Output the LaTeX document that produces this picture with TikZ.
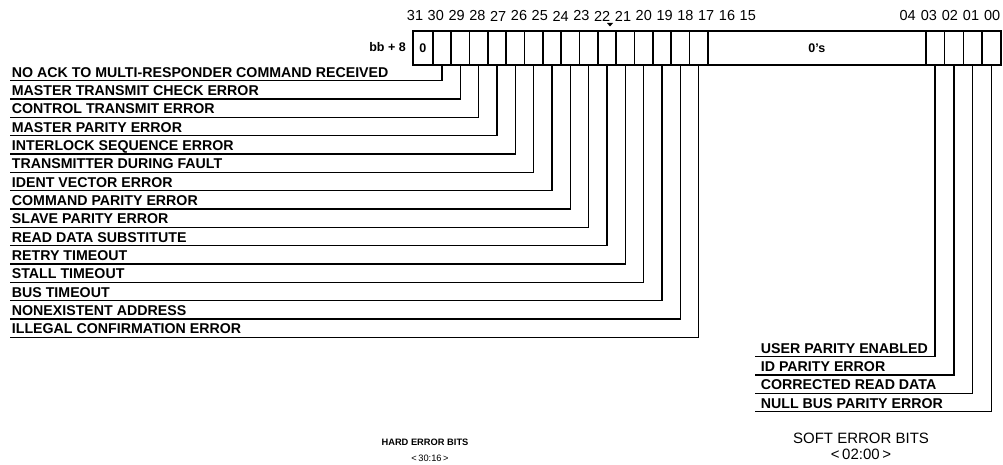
\documentclass[tikz,border=0pt]{standalone}
\usepackage{fontspec}
\setmainfont{Liberation Sans}
\begin{document}
\begin{tikzpicture}[x=1pt, y=-1pt,
    cell/.style={draw, line width=1.6pt, minimum height=34pt, inner sep=0pt, anchor=north west,
      font=\bfseries\fontsize{12.5}{14}\selectfont},
    bitno/.style={font=\fontsize{14.5}{16}\selectfont, inner sep=0pt},
    lbl/.style={font=\bfseries\fontsize{14.2}{16}\selectfont, anchor=south west,
      inner xsep=1.7pt, inner ysep=3.4pt, text depth=0pt},
    lead/.style={line width=1.4pt}]
    \useasboundingbox (0,0) rectangle (1003,465);

    % Register
    \node[font=\bfseries\fontsize{12.5}{14}\selectfont, anchor=east, inner sep=0pt] (base) at (406,47) {bb + 8};
    \node[cell, minimum width=20pt] (c31) at (412,30) {0};
    \foreach \b [count=\i from 0] in {30,29,...,16}
        \node[cell, minimum width=18.33pt] (c\b) at ({432+18.33*\i},30) {};
    \node[cell, minimum width=218pt] (czero) at (707,30) {0's};
    \foreach \b [count=\i from 0] in {03,02,01,00}
        \node[cell, minimum width=18.75pt] (c\b) at ({925+18.75*\i},30) {};

    % Bit numbers
    \foreach \b [count=\i from 0] in {31,30,...,15}
        \node[bitno] (n\b) at ({415+20.8*\i},16) {\b};
    \foreach \b [count=\i from 0] in {04,03,02,01,00}
        \node[bitno] (n\b) at ({907.7+21.1*\i},16) {\b};
    \fill (607,23) -- (613,23) -- (610,26.5) -- cycle;

    % Hard error bits
    \foreach \b/\t [count=\i from 0] in {30/NO ACK TO MULTI-RESPONDER COMMAND RECEIVED,
        29/MASTER TRANSMIT CHECK ERROR, 28/CONTROL TRANSMIT ERROR, 27/MASTER PARITY ERROR,
        26/INTERLOCK SEQUENCE ERROR, 25/TRANSMITTER DURING FAULT, 24/IDENT VECTOR ERROR,
        23/COMMAND PARITY ERROR, 22/SLAVE PARITY ERROR, 21/READ DATA SUBSTITUTE,
        20/RETRY TIMEOUT, 19/STALL TIMEOUT, 18/BUS TIMEOUT, 17/NONEXISTENT ADDRESS,
        16/ILLEGAL CONFIRMATION ERROR} {
        \node[lbl] (l\b) at (10,{80.7+18.33*\i}) {\t};
        \draw[lead] (l\b.south west) -| (c\b.south);
    }

    % Soft error bits
    \foreach \b/\t [count=\i from 0] in {03/USER PARITY ENABLED, 02/ID PARITY ERROR,
        01/CORRECTED READ DATA, 00/NULL BUS PARITY ERROR} {
        \node[lbl, inner xsep=5.7pt] (l\b) at (755,{356.7+18.33*\i}) {\t};
        \draw[lead] (l\b.south west) -| (c\b.south);
    }

    % Captions
    \node[font=\bfseries\fontsize{9.3}{11}\selectfont] (hard) at (425,442) {HARD ERROR BITS};
    \node[font=\fontsize{9.3}{11}\selectfont] (hardrng) at (430,458) {<\,30:16\,>};
    \node[font=\fontsize{15}{17}\selectfont] (soft) at (861,438) {SOFT ERROR BITS};
    \node[font=\fontsize{15}{17}\selectfont] (softrng) at (861,454) {<\,02:00\,>};
\end{tikzpicture}
\end{document}
